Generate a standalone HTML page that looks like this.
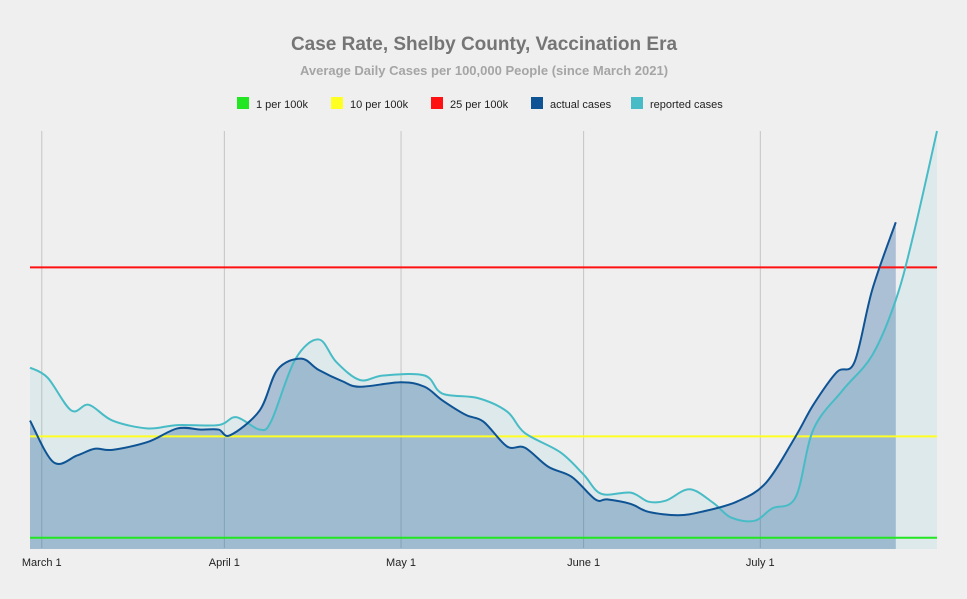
<!DOCTYPE html>
<html><head><meta charset="utf-8"><style>
body{margin:0;background:#efefef;font-family:"Liberation Sans",sans-serif;}
svg{display:block}
</style></head><body>
<svg id="c" width="967" height="599">
<text x="484" y="50" text-anchor="middle" font-size="19" font-weight="bold" fill="#757575">Case Rate, Shelby County, Vaccination Era</text>
<text x="484" y="75" text-anchor="middle" font-size="13" font-weight="bold" fill="#a5a5a5">Average Daily Cases per 100,000 People (since March 2021)</text>
<g id="legend"></g>
<g id="plot"></g>
</svg>
<script>
// days since Feb 27, 2021
const reportedDays=[0,3,7,10,14,20,25,32,35,39,41,45,49,52,56,60,67,70,76,81,84,90,94,97,102,105,108,112,116,119,123,126,130,133,138,143,147,150,154];
const reportedVals=[16.1,15.2,12.3,12.8,11.4,10.7,11.0,11.0,11.7,10.6,11.4,16.8,18.6,16.6,15.0,15.4,15.4,13.8,13.4,12.2,10.3,8.6,6.6,4.9,5.0,4.2,4.3,5.3,4.1,2.8,2.5,3.6,4.6,10.6,14.1,17.2,22.1,27.9,37.1];
const actualDays=[0,4,8,11,14,20,25,29,32,34,39,42,46,49,53,56,63,67,70,74,77,81,84,88,92,96,98,102,105,110,114,120,125,130,133,137,140,143,147];
const actualVals=[11.4,7.7,8.3,8.9,8.8,9.5,10.7,10.6,10.6,10.1,12.3,15.9,16.9,15.9,14.9,14.4,14.8,14.4,13.2,11.9,11.3,9.1,9.0,7.3,6.4,4.4,4.4,4.0,3.3,3.0,3.3,4.2,5.9,10.0,12.8,15.7,16.6,23.0,29.0];
const monthLabels=["March 1","April 1","May 1","June 1","July 1"];
const monthDays=[2,33,63,94,124];
const thresholds=[1,10,25];
const thresholdColors=["#22e622","#ffff22","#ff1111"];
const legendLabels=["1 per 100k","10 per 100k","25 per 100k","actual cases","reported cases"];
const legendColors=["#22e622","#ffff22","#ff1111","#0e5394","#48bcc6"];

const X0=30,X1=937,Y0=549,YT=131,DMAX=154,VMAX=37.1;
const xs=d=>X0+d*(X1-X0)/DMAX, ys=v=>Y0-v*(Y0-YT)/VMAX;
const NS="http://www.w3.org/2000/svg";
const plot=document.getElementById('plot'), legend=document.getElementById('legend');
function mk(t,a,p){const e=document.createElementNS(NS,t);for(const k in a)e.setAttribute(k,a[k]);(p||plot).appendChild(e);return e;}
function curve(px,py){let d=`M${px[0]},${py[0]}`;for(let i=0;i<px.length-1;i++){const p0=i?i-1:i,p3=i+2<px.length?i+2:i+1;
 const c1x=px[i]+(px[i+1]-px[p0])/6,c1y=py[i]+(py[i+1]-py[p0])/6,c2x=px[i+1]-(px[p3]-px[i])/6,c2y=py[i+1]-(py[p3]-py[i])/6;
 d+=` C${c1x},${c1y} ${c2x},${c2y} ${px[i+1]},${py[i+1]}`;}return d;}
monthDays.forEach((d,i)=>{
 const g=mk('line',{x1:xs(d),x2:xs(d),y1:YT,y2:548,stroke:'#c4c4c4','stroke-width':1});
 
 const t=mk('text',{x:xs(d),y:566,'text-anchor':'middle','font-size':11,fill:'#222'});t.textContent=monthLabels[i];
 
});
function series(days,vals,fill,stroke,name){
 const px=days.map(xs),py=vals.map(ys);const c=curve(px,py);
 const a=mk('path',{d:c+` L${px[px.length-1]},${Y0} L${px[0]},${Y0} Z`,fill:fill});
 
 return ()=>{const l=mk('path',{d:c,fill:'none',stroke:stroke,'stroke-width':2});
 };
}
const rl=series(reportedDays,reportedVals,'rgba(72,188,198,0.1)','#48bcc6','reported-cases');
const al=series(actualDays,actualVals,'rgba(14,83,148,0.3)','#0e5394','actual-cases');
thresholds.forEach((v,i)=>{const l=mk('line',{x1:X0,x2:X1,y1:ys(v),y2:ys(v),stroke:thresholdColors[i],'stroke-width':2});
 });
rl();al();
const lx=[231,325,425,525,625];
legendLabels.forEach((s,i)=>{
 const g=mk('g',{},legend);
 mk('rect',{x:lx[i]+6,y:97,width:12,height:12,fill:legendColors[i]},g);
 const t=mk('text',{x:lx[i]+25,y:108,'font-size':11,fill:'#222'},g);t.textContent=s;
});
</script>
</body></html>
